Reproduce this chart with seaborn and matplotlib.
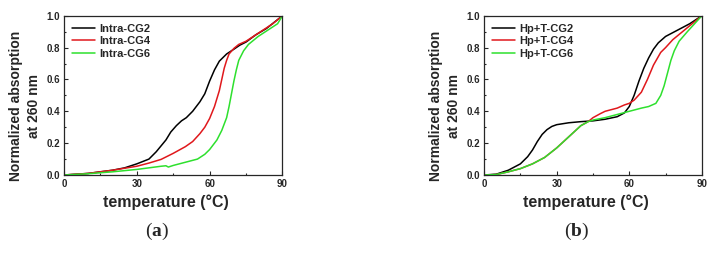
import seaborn as sns
import matplotlib.pyplot as plt
import pandas as pd
from matplotlib.ticker import MultipleLocator

# data (temperature in C, normalized absorption)
t_cg2_a = [0, 10, 20, 25, 30, 35, 38, 42, 44, 46.3, 48.4, 50.4, 53, 56, 58, 60, 62, 64, 67, 70, 72.4, 75, 79, 83.4, 90]
v_cg2_a = [0, 0.01, 0.03, 0.045, 0.07, 0.10, 0.146, 0.22, 0.27, 0.31, 0.34, 0.36, 0.40, 0.46, 0.51, 0.59, 0.66, 0.715, 0.76, 0.79, 0.815, 0.835, 0.88, 0.92, 1.0]
t_cg4_a = [0, 10, 20, 30, 35, 40, 45, 50, 53, 56, 58, 60, 62, 64, 65, 66, 67, 68, 70, 72, 75, 78, 82, 86, 90]
v_cg4_a = [0, 0.01, 0.03, 0.055, 0.075, 0.098, 0.136, 0.178, 0.21, 0.26, 0.30, 0.355, 0.43, 0.53, 0.60, 0.67, 0.72, 0.76, 0.795, 0.82, 0.84, 0.87, 0.91, 0.95, 1.0]
t_cg6_a = [0, 10, 20, 30, 35, 40, 42, 43, 45, 50, 55, 58, 60, 63, 65, 67, 68, 69, 70, 71, 72, 74, 76, 78, 80, 84, 88, 90]
v_cg6_a = [0, 0.008, 0.02, 0.035, 0.045, 0.055, 0.058, 0.05, 0.06, 0.08, 0.10, 0.13, 0.16, 0.22, 0.28, 0.36, 0.43, 0.51, 0.59, 0.66, 0.72, 0.78, 0.82, 0.845, 0.87, 0.91, 0.95, 1.0]

t_cg2_b = [0, 5, 10, 15, 18, 20, 22, 24, 26, 28, 30, 35, 40, 45, 50, 55, 58, 60, 62, 64, 66, 68, 70, 72, 75, 80, 85, 90]
v_cg2_b = [0, 0.005, 0.03, 0.07, 0.115, 0.157, 0.21, 0.255, 0.285, 0.305, 0.316, 0.328, 0.335, 0.34, 0.35, 0.366, 0.39, 0.43, 0.50, 0.59, 0.67, 0.735, 0.79, 0.83, 0.87, 0.91, 0.95, 1.0]
t_cg4_b = [0, 5, 10, 15, 20, 25, 30, 35, 40, 43, 45, 48, 50, 55, 58, 60, 62, 65, 67.5, 70, 73, 75, 78, 82, 86, 90]
v_cg4_b = [0, 0.003, 0.02, 0.04, 0.07, 0.11, 0.17, 0.24, 0.31, 0.335, 0.36, 0.385, 0.40, 0.42, 0.44, 0.45, 0.47, 0.52, 0.60, 0.69, 0.77, 0.80, 0.85, 0.90, 0.95, 1.0]
t_cg6_b = [0, 5, 10, 15, 20, 25, 30, 35, 40, 43, 45, 50, 55, 60, 65, 68, 71, 73, 74.4, 75.8, 77.2, 78.6, 80.6, 84, 87, 90]
v_cg6_b = [0, 0.003, 0.02, 0.04, 0.07, 0.11, 0.17, 0.24, 0.31, 0.335, 0.345, 0.36, 0.38, 0.40, 0.42, 0.43, 0.45, 0.50, 0.56, 0.64, 0.72, 0.78, 0.84, 0.90, 0.95, 1.0]

labels_a = ['Intra-CG2', 'Intra-CG4', 'Intra-CG6']
labels_b = ['Hp+T-CG2', 'Hp+T-CG4', 'Hp+T-CG6']
colors = ['#000000', '#e0181c', '#2ee02e']


def to_frame(ts, vs, labels):
    parts = []
    for t, v, lab in zip(ts, vs, labels):
        parts.append(pd.DataFrame({'T': t, 'A': v, 'sample': lab}))
    return pd.concat(parts, ignore_index=True)


df_a = to_frame([t_cg2_a, t_cg4_a, t_cg6_a], [v_cg2_a, v_cg4_a, v_cg6_a], labels_a)
df_b = to_frame([t_cg2_b, t_cg4_b, t_cg6_b], [v_cg2_b, v_cg4_b, v_cg6_b], labels_b)

sns.set_style("ticks")
plt.rcParams['font.family'] = ['Liberation Sans', 'DejaVu Sans']
plt.rcParams['mathtext.fontset'] = 'custom'
plt.rcParams['mathtext.bf'] = 'Liberation Serif:bold'
plt.rcParams['mathtext.rm'] = 'Liberation Serif'

fig = plt.figure(figsize=(7.14, 2.54), dpi=100)
ax_a = fig.add_axes([0.0896, 0.311, 0.306, 0.627])
ax_b = fig.add_axes([0.678, 0.311, 0.305, 0.627])

for ax, df, labels, cap, xc in [(ax_a, df_a, labels_a, 'a', 0.22), (ax_b, df_b, labels_b, 'b', 0.808)]:
    sns.lineplot(data=df, x='T', y='A', hue='sample', hue_order=labels,
                 palette=colors, sort=False, linewidth=1.1, ax=ax)
    ax.set_xlim(0, 90)
    ax.set_ylim(0, 1.0)
    ax.xaxis.set_major_locator(MultipleLocator(30))
    ax.xaxis.set_minor_locator(MultipleLocator(15))
    ax.yaxis.set_major_locator(MultipleLocator(0.2))
    ax.yaxis.set_minor_locator(MultipleLocator(0.1))
    ax.yaxis.set_major_formatter(plt.FormatStrFormatter('%.1f'))
    ax.tick_params(which='major', direction='in', length=3, width=0.8,
                   labelsize=7, pad=3)
    ax.tick_params(which='minor', direction='in', length=1.5, width=0.8)
    for lab in ax.get_xticklabels() + ax.get_yticklabels():
        lab.set_fontweight('bold')
    for sp in ax.spines.values():
        sp.set_visible(True)
        sp.set_linewidth(0.9)
    ax.set_xlabel('temperature (°C)', fontsize=11.5, fontweight='bold')
    ax.xaxis.label.set_va('center')
    ax.xaxis.set_label_coords(0.468, -0.17)
    ax.set_ylabel('Normalized absorption\nat 260 nm', fontsize=10, fontweight='bold',
                  linespacing=1.35)
    ax.yaxis.label.set_va('center')
    ax.yaxis.set_label_coords(-0.18, 0.433)
    leg = ax.legend(loc='upper left', frameon=False, fontsize=8, handlelength=2.0,
                    labelspacing=0.2, borderaxespad=0.35, handletextpad=0.4)
    for txt in leg.get_texts():
        txt.set_fontweight('bold')
    for ln in leg.get_lines():
        ln.set_linewidth(1.1)
    fig.text(xc, 0.09, r'($\mathbf{' + cap + r'}$)', fontsize=14,
             family='Liberation Serif', ha='center', va='center')

fig.savefig('out.png', dpi=100)
